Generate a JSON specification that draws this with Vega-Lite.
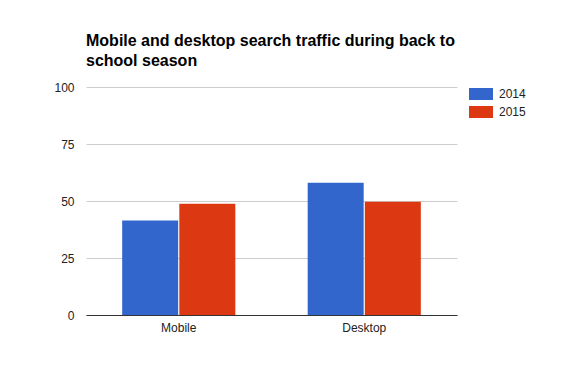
{
  "$schema": "https://vega.github.io/schema/vega-lite/v6.json",
  "width": 371,
  "height": 228,
  "autosize": {"type": "none"},
  "padding": {"left": 86, "top": 87, "right": 122, "bottom": 63},
  "background": "white",
  "title": {
    "text": ["Mobile and desktop search traffic during back to", "school season"],
    "anchor": "start",
    "frame": "group",
    "font": "Liberation Sans",
    "fontSize": 16,
    "fontWeight": "bold",
    "color": "#000000",
    "lineHeight": 20,
    "offset": 12
  },
  "data": {
    "values": [
      {"device": "Mobile", "year": "2014", "value": 41.4},
      {"device": "Mobile", "year": "2015", "value": 48.8},
      {"device": "Desktop", "year": "2014", "value": 58.0},
      {"device": "Desktop", "year": "2015", "value": 49.7}
    ]
  },
  "mark": {"type": "bar"},
  "encoding": {
    "x": {
      "field": "device",
      "type": "nominal",
      "sort": ["Mobile", "Desktop"],
      "scale": {"paddingInner": 0.39, "paddingOuter": 0.195},
      "axis": {
        "title": null,
        "labelAngle": 0,
        "ticks": false,
        "domainColor": "#333333",
        "domainWidth": 1,
        "labelPadding": 7,
        "grid": false
      }
    },
    "xOffset": {
      "field": "year",
      "type": "nominal",
      "scale": {"paddingInner": 0.02, "paddingOuter": 0}
    },
    "y": {
      "field": "value",
      "type": "quantitative",
      "scale": {"domain": [0, 100], "nice": false},
      "axis": {
        "title": null,
        "values": [0, 25, 50, 75, 100],
        "ticks": false,
        "domain": false,
        "gridColor": "#cccccc",
        "labelPadding": 12
      }
    },
    "color": {
      "field": "year",
      "type": "nominal",
      "scale": {"domain": ["2014", "2015"], "range": ["#3366cc", "#dc3912"]},
      "legend": {
        "title": null,
        "orient": "none",
        "legendX": 383,
        "legendY": -5,
        "symbolType": "M-1,-0.5H1V0.5H-1Z",
        "symbolSize": 576,
        "symbolStrokeWidth": 0,
        "symbolOpacity": 1,
        "rowPadding": -1,
        "labelOffset": 6
      }
    }
  },
  "config": {
    "view": {"stroke": null},
    "font": "Liberation Sans",
    "axis": {
      "labelFont": "Liberation Sans",
      "labelFontSize": 12,
      "labelColor": "#222222"
    },
    "legend": {
      "labelFont": "Liberation Sans",
      "labelFontSize": 12,
      "labelColor": "#222222"
    }
  }
}
